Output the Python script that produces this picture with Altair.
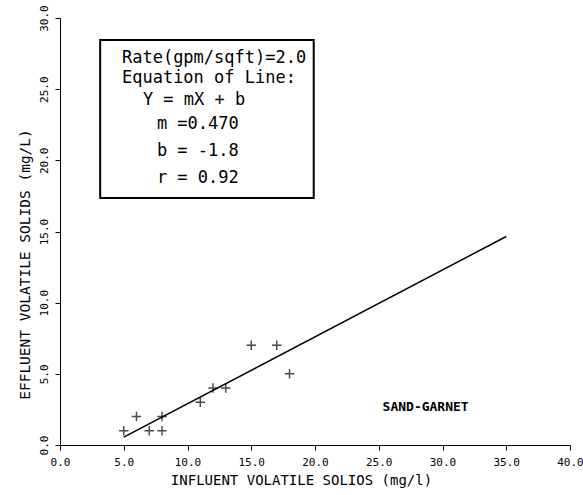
import altair as alt
import pandas as pd

# Observed data points (influent, effluent volatile solids, mg/L)
inf_vs = [5, 6, 7, 8, 8, 11, 12, 13, 15, 17, 18]
eff_vs = [1, 2, 1, 1, 2, 3, 4, 4, 7, 7, 5]

# Regression line parameters and extent
slope = 0.470
intercept = -1.8
line_x = [5, 35]

# Annotation box content
box_lines = ["Rate(gpm/sqft)=2.0", "Equation of Line:", "Y = mX + b",
             "m =0.470", "b = -1.8", "r = 0.92"]
box_line_x = [4.86, 4.86, 6.5, 7.6, 7.6, 7.6]
box_line_y = [27.2, 25.8, 24.25, 22.55, 20.65, 18.75]
box_x = [3.15, 19.9]
box_y = [17.35, 28.45]

label_text = ["SAND-GARNET"]
label_x = [25.3]
label_y = [2.7]

tick_vals_x = [i * 2.5 for i in range(17)]
tick_vals_y = [i * 2.5 for i in range(13)]

FONT = "DejaVu Sans Mono"

pts = pd.DataFrame({"x": inf_vs, "y": eff_vs})
line_df = pd.DataFrame({"x": line_x, "y": [slope * v + intercept for v in line_x]})
box_df = pd.DataFrame({"x": [box_x[0]], "x2": [box_x[1]], "y": [box_y[0]], "y2": [box_y[1]]})
txt_df = pd.DataFrame({"x": box_line_x, "y": box_line_y, "t": box_lines})
lab_df = pd.DataFrame({"x": label_x, "y": label_y, "t": label_text})

lab_expr = "datum.value % 5 == 0 ? format(datum.value, '.1f') : ''"

xscale = alt.Scale(domain=[0, 40], nice=False, zero=False)
yscale = alt.Scale(domain=[0, 30], nice=False, zero=False)

xenc = alt.X("x:Q", scale=xscale, axis=alt.Axis(
    title="INFLUENT VOLATILE SOLIOS (mg/l)", values=tick_vals_x, labelExpr=lab_expr,
    grid=False, domainColor="black", tickColor="black", tickSize=5, labelColor="black",
    labelFont=FONT, labelFontSize=11, labelPadding=6, labelFlush=False,
    titleFont=FONT, titleFontSize=14, titleFontWeight="normal", titleColor="black",
    titlePadding=6, titleX=241, titleAlign="center"))
yenc = alt.Y("y:Q", scale=yscale, axis=alt.Axis(
    title="EFFLUENT VOLATILE SOLIDS (mg/L)", values=tick_vals_y, labelExpr=lab_expr,
    grid=False, domainColor="black", tickColor="black", tickSize=5, labelColor="black",
    labelFont=FONT, labelFontSize=11, labelPadding=6, labelAngle=270,
    labelAlign="center", labelBaseline="bottom", labelFlush=False,
    titleFont=FONT, titleFontSize=14.5, titleFontWeight="normal", titleColor="black",
    titlePadding=6, titleY=246, titleAlign="center"))

points = alt.Chart(pts).mark_point(
    shape="M-1,0L1,0M0,-1L0,1", filled=False, color="black", strokeWidth=1.5, size=90
).encode(x=xenc, y=yenc)

line = alt.Chart(line_df).mark_line(color="black", strokeWidth=1.5).encode(x="x:Q", y="y:Q")

box = alt.Chart(box_df).mark_rect(fillOpacity=0, stroke="black", strokeWidth=2).encode(
    x="x:Q", x2="x2", y="y:Q", y2="y2")

texts = alt.Chart(txt_df).mark_text(
    align="left", baseline="middle", font=FONT, fontSize=17, color="black"
).encode(x="x:Q", y="y:Q", text="t:N")

label = alt.Chart(lab_df).mark_text(
    align="left", baseline="middle", font=FONT, fontSize=13, fontWeight="bold", color="black"
).encode(x="x:Q", y="y:Q", text="t:N")

chart = alt.layer(points, line, box, texts, label).properties(
    width=510, height=427,
    autosize=alt.AutoSizeParams(type="none"),
    padding={"left": 60, "top": 18, "right": 13, "bottom": 50},
    background="white",
).configure_view(stroke=None)

chart.save("out.html", embed_options={"renderer": "svg", "actions": False})
